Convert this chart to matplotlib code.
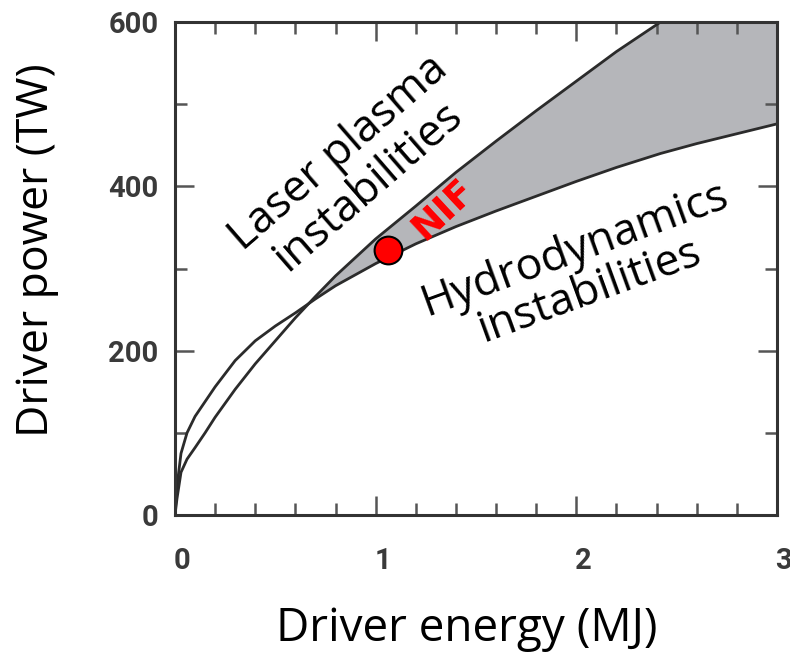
import numpy as np
import matplotlib.pyplot as plt
import matplotlib.transforms as mtransforms

# driver energy grid (MJ) shared by both boundary curves
energy = [0, 0.01, 0.03, 0.06, 0.1, 0.15, 0.2, 0.3, 0.4, 0.5, 0.6, 0.7,
          0.8, 1.0, 1.2, 1.4, 1.6, 1.8, 2.0, 2.2, 2.42, 2.6, 2.8, 3.0]

# hydrodynamic instability limit (TW)
hydro = [0, 35, 75, 100, 120, 138, 156, 188, 212, 230, 246, 263,
         279, 306, 330, 351, 370, 388, 406, 423, 440, 452, 464, 476]

# laser plasma instability limit (TW)
lpi = [0, 20, 52, 68, 82, 100, 119, 153, 184, 212, 240, 266,
       291, 336, 376, 417, 455, 492, 528, 564, 600, 630, 662, 694]

nif_energy = 1.06
nif_power = 322

xticks = [0, 1, 2, 3]
yticks = [0, 200, 400, 600]

label_font = ["Open Sans", "DejaVu Sans"]
tick_font = ["Roboto", "DejaVu Sans"]

fig = plt.figure(figsize=(7.9, 6.53), dpi=100)
ax = fig.add_axes([0.2215, 0.2113, 0.762, 0.755])

e = np.array(energy)
h = np.array(hydro)
l = np.array(lpi)

ax.fill_between(e, h, l, where=l >= h, interpolate=True,
                color="#b5b6ba", linewidth=0, zorder=1)
ax.plot(e, h, color="#2b2b2b", lw=2.0, zorder=2)
ax.plot(e, l, color="#2b2b2b", lw=2.0, zorder=2)

ax.plot(nif_energy, nif_power, "o", ms=20, mfc="red", mec="black",
        mew=1.5, zorder=4)

ax.set_xlim(0, 3)
ax.set_ylim(0, 600)
ax.set_xticks(xticks)
ax.set_yticks(yticks)
ax.set_xticks(np.arange(0, 3.01, 0.2), minor=True)
ax.set_yticks(np.arange(0, 601, 100), minor=True)

ax.tick_params(which="both", direction="in", top=True, right=True,
               color="#555555", width=1.8)
ax.tick_params(which="major", length=14)
ax.tick_params(which="minor", length=8.5)
ax.tick_params(axis="x", which="major", pad=23)
ax.tick_params(axis="y", which="major", pad=12)

shift = mtransforms.ScaledTranslation(5 / 72, 0, fig.dpi_scale_trans)
for lab in ax.get_xticklabels():
    lab.set_transform(lab.get_transform() + shift)

for lab in ax.get_xticklabels() + ax.get_yticklabels():
    lab.set_fontsize(21)
    lab.set_fontweight("bold")
    lab.set_family(tick_font)
    lab.set_color("#3a3a3a")

for sp in ax.spines.values():
    sp.set_linewidth(2.2)
    sp.set_color("#333333")

fig.text(0.591, 0.018, "Driver energy (MJ)", ha="center", va="baseline",
         fontsize=33, family=label_font)
fig.text(0.047, 0.617, "Driver power (TW)", ha="center", va="center",
         rotation=90, fontsize=32, family=label_font)

ax.text(0.89, 420, "Laser plasma\ninstabilities", rotation=41,
        ha="center", va="center", multialignment="center",
        rotation_mode="anchor", fontsize=32, family=label_font,
        linespacing=1.0, zorder=5)
ax.text(2.03, 298, "Hydrodynamics\ninstabilities", rotation=20,
        ha="center", va="center", multialignment="center",
        rotation_mode="anchor", fontsize=32, family=label_font,
        linespacing=1.0, zorder=5)
ax.text(1.34, 372, "NIF", rotation=43, ha="center", va="center",
        rotation_mode="anchor", fontsize=27, fontweight="bold",
        color="red", zorder=5)

plt.savefig("out.png", dpi=100)
